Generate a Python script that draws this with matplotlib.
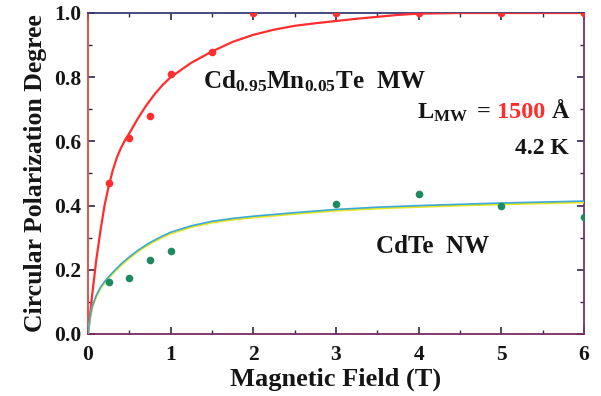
import matplotlib
matplotlib.use("Agg")
import matplotlib.pyplot as plt
import matplotlib.transforms as mtransforms

# ---- data ----
mw_field = [0.25, 0.5, 0.75, 1.0, 1.5, 2, 3, 4, 5, 6]
mw_pol = [0.47, 0.61, 0.68, 0.81, 0.88, 1.0, 1.0, 1.0, 1.0, 1.0]

nw_field = [0.25, 0.5, 0.75, 1.0, 3, 4, 5, 6]
nw_pol = [0.163, 0.175, 0.23, 0.26, 0.405, 0.435, 0.40, 0.365]

mw_fit_x = [0, 0.05, 0.1, 0.15, 0.2, 0.25, 0.3, 0.35, 0.4, 0.45, 0.5, 0.6, 0.7, 0.8,
            0.9, 1.0, 1.25, 1.5, 1.75, 2.0, 2.25, 2.5, 2.75, 3.0, 3.25, 3.5, 3.75, 4.0,
            4.5, 5, 6]
mw_fit_y = [0, 0.12, 0.23, 0.32, 0.40, 0.46, 0.51, 0.55, 0.58, 0.605, 0.625, 0.67, 0.71,
            0.745, 0.775, 0.80, 0.845, 0.88, 0.91, 0.932, 0.948, 0.96, 0.968, 0.975,
            0.982, 0.988, 0.994, 0.998, 1.0, 1.0, 1.0]

nw_fit_x = [0, 0.025, 0.05, 0.1, 0.15, 0.2, 0.25, 0.3, 0.4, 0.5, 0.6, 0.75, 0.9, 1.0,
            1.25, 1.5, 1.75, 2, 2.5, 3, 3.5, 4, 4.5, 5, 5.5, 6]
nw_fit_y = [0, 0.05, 0.085, 0.12, 0.145, 0.163, 0.178, 0.192, 0.218, 0.24, 0.26, 0.285,
            0.305, 0.317, 0.337, 0.351, 0.36, 0.367, 0.378, 0.388, 0.395, 0.40, 0.404,
            0.408, 0.411, 0.414]

xticks = [0, 1, 2, 3, 4, 5, 6]
yticks = [0.0, 0.2, 0.4, 0.6, 0.8, 1.0]

# ---- style ----
plt.rcParams['font.family'] = ['Liberation Serif', 'DejaVu Serif']
plt.rcParams['font.weight'] = 'bold'
plt.rcParams['mathtext.fontset'] = 'custom'
plt.rcParams['mathtext.rm'] = 'Liberation Serif:bold'
plt.rcParams['mathtext.it'] = 'Liberation Serif:bold:italic'
plt.rcParams['mathtext.bf'] = 'Liberation Serif:bold'

RED = '#ff2d2d'
GREEN = '#1f8a60'
BLUE = '#3aa8d8'
YELLOW = '#e6e61e'
INK = '#151515'

fig = plt.figure(figsize=(6.01, 3.96), dpi=100)
ax = fig.add_axes([0.1464, 0.1566, 0.8253, 0.8106])

# fits
ax.plot(mw_fit_x, mw_fit_y, color=RED, lw=1.6, zorder=3, solid_joinstyle='round')
yoff = mtransforms.offset_copy(ax.transData, fig=fig, x=0, y=-0.9, units='points')
ax.plot(nw_fit_x, nw_fit_y, color=YELLOW, lw=1.5, zorder=3, transform=yoff,
        solid_joinstyle='round')
ax.plot(nw_fit_x, nw_fit_y, color=BLUE, lw=1.2, zorder=4, solid_joinstyle='round')

# data
ax.plot(mw_field, mw_pol, 'o', color=RED, ms=5.5, mec='none', zorder=5)
ax.plot(nw_field, nw_pol, 'o', color=GREEN, ms=5.5, mec='none', zorder=5)

ax.set_xlim(0, 6)
ax.set_ylim(0, 1.0)
ax.set_xticks(xticks)
ax.set_yticks(yticks)
ax.set_xticklabels([str(t) for t in xticks])
ax.set_yticklabels([f"{t:.1f}" for t in yticks])
ax.set_xticks([0.5, 1.5, 2.5, 3.5, 4.5, 5.5], minor=True)
ax.set_yticks([0.1, 0.3, 0.5, 0.7, 0.9], minor=True)
ax.tick_params(which='both', direction='in', top=True, right=True, color='#2a2a4a')
ax.tick_params(which='major', length=5, width=1.2, labelsize=15.5)
ax.tick_params(axis='x', which='major', pad=8)
ax.tick_params(axis='y', which='major', pad=5)
ax.tick_params(which='minor', length=3, width=1.0)
for lab in ax.get_xticklabels() + ax.get_yticklabels():
    lab.set_fontweight('bold')
    lab.set_color(INK)

ax.spines['left'].set_color('#e0453c')
ax.spines['top'].set_color('#3a3a7a')
ax.spines['right'].set_color('#7a3070')
ax.spines['bottom'].set_color('#7a2a60')
for s in ax.spines.values():
    s.set_linewidth(1.3)

ax.set_xlabel('Magnetic Field (T)', fontsize=19, fontweight='bold', labelpad=2, color=INK)
ax.set_ylabel('Circular Polarization Degree', fontsize=18.5, fontweight='bold',
              labelpad=5, color=INK)

# annotations
ax.text(1.39, 0.765, r'$\mathrm{Cd}_{\mathit{0.95}}\mathrm{Mn}_{\mathit{0.05}}\mathrm{Te\ \ MW}$',
        fontsize=18, color=INK)
ax.text(5.82, 0.56, '4.2 K', fontsize=17, fontweight='bold', ha='right', color=INK)
ax.text(4.17, 0.252, 'CdTe  NW', fontsize=18, fontweight='bold', ha='center', color=INK)

# L_MW = 1500 Å, with red number
fig.canvas.draw()
r = fig.canvas.get_renderer()
ly = 0.672
t3 = ax.text(5.83, ly, r'$\mathrm{\AA}$', fontsize=17.5, ha='right', color=INK)
bb = t3.get_window_extent(r)
inv = ax.transData.inverted()
x3 = inv.transform((bb.x0 - 5, bb.y0))[0]
t2 = ax.text(x3, ly, '1500', fontsize=17.5, fontweight='bold', ha='right', color=RED)
bb2 = t2.get_window_extent(r)
x2 = inv.transform((bb2.x0 - 6, bb2.y0))[0]
ax.text(x2, ly, r'$\mathrm{L}_{\mathrm{MW}}\ \mathrm{=}$', fontsize=17.5, ha='right', color=INK)

fig.savefig('out.png', dpi=100)
